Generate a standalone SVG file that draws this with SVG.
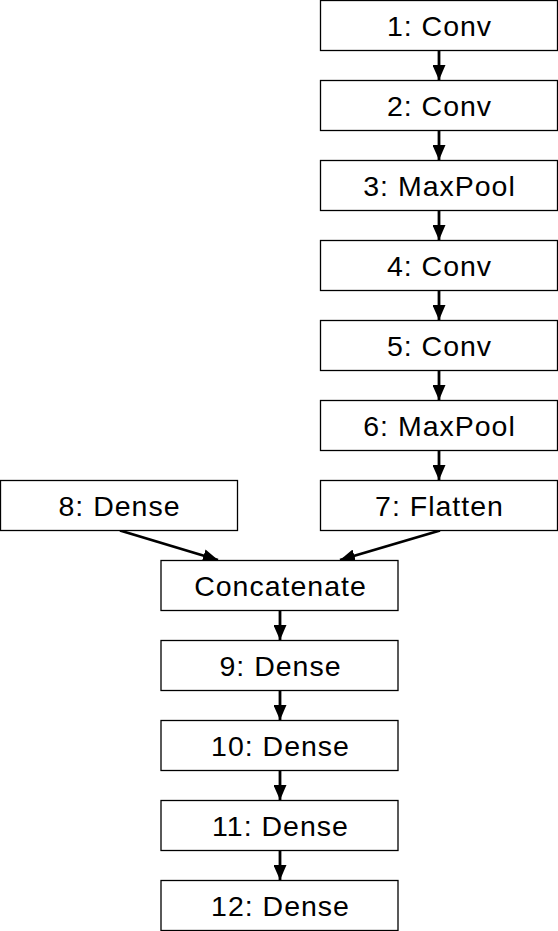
<svg xmlns="http://www.w3.org/2000/svg" width="558" height="931" viewBox="0 0 558 931">
<style>
.box rect{fill:#fff;stroke:#000;stroke-width:1.3}
.box text{font-family:"Liberation Sans",Arial,sans-serif;font-size:28.5px;letter-spacing:1px;fill:#000;text-anchor:middle}
.edge{stroke:#000;stroke-width:2.8;fill:none;marker-end:url(#ah)}
</style>
<defs>
<marker id="ah" markerUnits="userSpaceOnUse" markerWidth="15" markerHeight="13" viewBox="0 0 15 13" refX="15" refY="6.5" orient="auto">
<path d="M0,0 L15,6.5 L0,13 Z" fill="#000"/>
</marker>
</defs>
<rect width="558" height="931" fill="#fff"/>
<g id="connectors">
<path class="edge" d="M439,50.5 V80"/>
<path class="edge" d="M439,130.5 V160"/>
<path class="edge" d="M439,210.5 V240"/>
<path class="edge" d="M439,290.5 V320"/>
<path class="edge" d="M439,370.5 V400"/>
<path class="edge" d="M439,450.5 V480"/>
<path class="edge" d="M120,530.5 L218,560"/>
<path class="edge" d="M440,530.5 L340,560"/>
<path class="edge" d="M280,610.5 V640"/>
<path class="edge" d="M280,690.5 V720"/>
<path class="edge" d="M280,770.5 V800"/>
<path class="edge" d="M280,850.5 V880"/>
</g>
<g id="n1" class="box"><rect x="320.5" y="0.5" width="237" height="50"/><text x="439.5" y="36">1: Conv</text></g>
<g id="n2" class="box"><rect x="320.5" y="80.5" width="237" height="50"/><text x="439.5" y="116">2: Conv</text></g>
<g id="n3" class="box"><rect x="320.5" y="160.5" width="237" height="50"/><text x="439.5" y="196">3: MaxPool</text></g>
<g id="n4" class="box"><rect x="320.5" y="240.5" width="237" height="50"/><text x="439.5" y="276">4: Conv</text></g>
<g id="n5" class="box"><rect x="320.5" y="320.5" width="237" height="50"/><text x="439.5" y="356">5: Conv</text></g>
<g id="n6" class="box"><rect x="320.5" y="400.5" width="237" height="50"/><text x="439.5" y="436">6: MaxPool</text></g>
<g id="n7" class="box"><rect x="320.5" y="480.5" width="237" height="50"/><text x="439.5" y="516">7: Flatten</text></g>
<g id="n8" class="box"><rect x="0.5" y="480.5" width="237" height="50"/><text x="119.5" y="516">8: Dense</text></g>
<g id="concat" class="box"><rect x="161" y="560.5" width="237" height="50"/><text x="280.5" y="596">Concatenate</text></g>
<g id="n9" class="box"><rect x="161" y="640.5" width="237" height="50"/><text x="280.5" y="676">9: Dense</text></g>
<g id="n10" class="box"><rect x="161" y="720.5" width="237" height="50"/><text x="280.5" y="756">10: Dense</text></g>
<g id="n11" class="box"><rect x="161" y="800.5" width="237" height="50"/><text x="280.5" y="836">11: Dense</text></g>
<g id="n12" class="box"><rect x="161" y="880.5" width="237" height="50"/><text x="280.5" y="916">12: Dense</text></g>
</svg>
